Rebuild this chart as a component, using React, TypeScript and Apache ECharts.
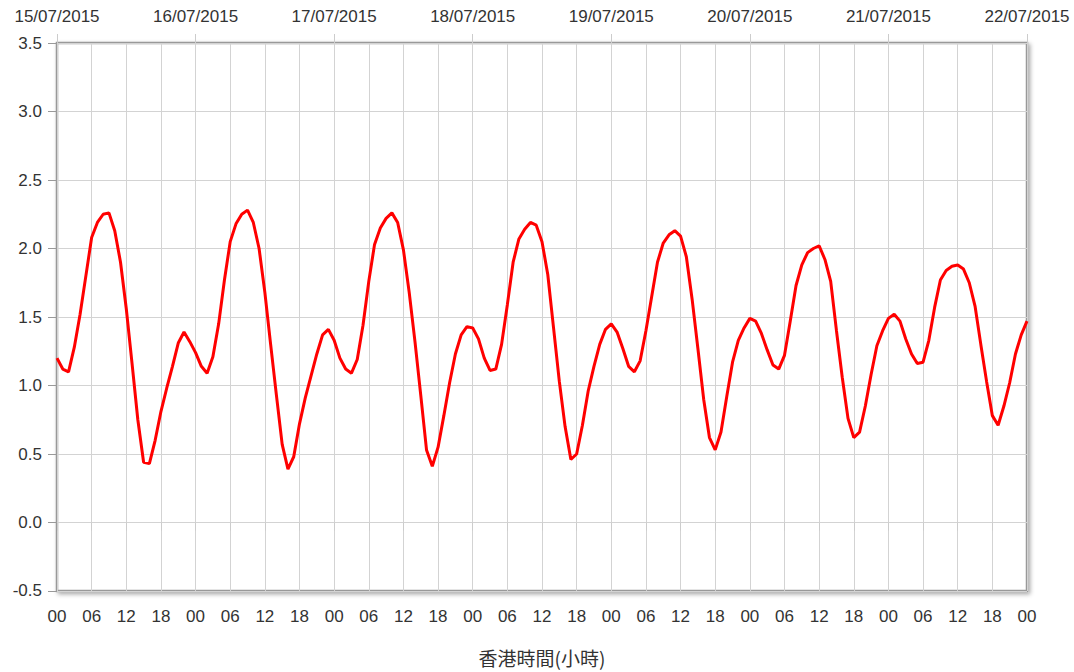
import React, { useEffect, useRef } from "react";
import * as echarts from "echarts";

const dateLabels = [
  "15/07/2015", "16/07/2015", "17/07/2015", "18/07/2015",
  "19/07/2015", "20/07/2015", "21/07/2015", "22/07/2015",
];

const hourLabels = ["00", "06", "12", "18"];

const yTicks = [-0.5, 0.0, 0.5, 1.0, 1.5, 2.0, 2.5, 3.0, 3.5];

// hourly tide heights (m), 15/07/2015 00:00 -> 22/07/2015 00:00
const tideHeights = [
  1.20, 1.12, 1.10, 1.28, 1.52, 1.80, 2.08, 2.19, 2.25, 2.26, 2.13, 1.90,
  1.56, 1.16, 0.75, 0.44, 0.43, 0.60, 0.81, 0.98, 1.14, 1.31, 1.39, 1.32,
  1.24, 1.14, 1.09, 1.21, 1.45, 1.77, 2.05, 2.18, 2.25, 2.28, 2.19, 2.00,
  1.68, 1.30, 0.93, 0.57, 0.39, 0.48, 0.72, 0.91, 1.07, 1.23, 1.37, 1.41,
  1.33, 1.20, 1.12, 1.09, 1.19, 1.44, 1.76, 2.03, 2.15, 2.22, 2.26, 2.19,
  1.99, 1.68, 1.32, 0.93, 0.53, 0.41, 0.55, 0.78, 1.02, 1.23, 1.37, 1.43,
  1.42, 1.34, 1.20, 1.11, 1.12, 1.30, 1.59, 1.90, 2.07, 2.14, 2.19, 2.17,
  2.05, 1.81, 1.42, 1.03, 0.70, 0.46, 0.50, 0.71, 0.96, 1.14, 1.30, 1.41,
  1.45, 1.39, 1.27, 1.14, 1.10, 1.18, 1.40, 1.65, 1.90, 2.04, 2.10, 2.13,
  2.09, 1.94, 1.63, 1.27, 0.90, 0.62, 0.53, 0.66, 0.92, 1.17, 1.33, 1.42,
  1.49, 1.47, 1.38, 1.26, 1.15, 1.12, 1.22, 1.47, 1.73, 1.88, 1.97, 2.00,
  2.02, 1.92, 1.76, 1.40, 1.06, 0.76, 0.62, 0.66, 0.85, 1.08, 1.29, 1.40,
  1.49, 1.52, 1.47, 1.34, 1.23, 1.16, 1.17, 1.33, 1.57, 1.77, 1.84, 1.87,
  1.88, 1.85, 1.75, 1.58, 1.30, 1.03, 0.78, 0.71, 0.85, 1.02, 1.23, 1.37,
  1.47,
];

const axisName = "香港時間(小時)";

export default function App() {
  const ref = useRef<HTMLDivElement>(null);

  useEffect(() => {
    if (!ref.current) return;
    const chart = echarts.init(ref.current, null, { renderer: "svg" });
    const totalHours = tideHeights.length - 1;
    const font = "Liberation Sans, Arial, sans-serif";
    chart.setOption({
      animation: false,
      backgroundColor: "#ffffff",
      grid: {
        left: 57,
        right: 47,
        top: 43,
        bottom: 79,
        show: true,
        backgroundColor: "#ffffff",
        borderColor: "#999999",
        borderWidth: 2.5,
        shadowColor: "rgba(0,0,0,0.35)",
        shadowBlur: 4,
        shadowOffsetX: 2,
        shadowOffsetY: 2,
      },
      xAxis: [
        {
          type: "value",
          position: "bottom",
          min: 0,
          max: totalHours,
          interval: 6,
          name: axisName,
          nameLocation: "middle",
          nameGap: 57,
          nameTextStyle: {
            fontSize: 19,
            color: "#333",
            fontFamily: "Noto Sans CJK TC, sans-serif",
          },
          axisLine: { show: false },
          axisTick: {
            show: true,
            length: 8,
            lineStyle: { color: "#cccccc" },
          },
          axisLabel: {
            margin: 17,
            fontSize: 17,
            color: "#333",
            fontFamily: font,
            formatter: (v: number) => hourLabels[(Math.round(v) % 24) / 6],
          },
          splitLine: { show: true, lineStyle: { color: "#d3d3d3", width: 1 } },
        },
        {
          type: "value",
          position: "top",
          min: 0,
          max: totalHours,
          interval: 24,
          axisLine: { show: false },
          axisTick: {
            show: true,
            length: 9,
            lineStyle: { color: "#cccccc" },
          },
          axisLabel: {
            margin: 18,
            fontSize: 17,
            color: "#333",
            fontFamily: font,
            formatter: (v: number) => dateLabels[Math.round(v / 24)],
          },
          splitLine: { show: false },
        },
      ],
      yAxis: {
        type: "value",
        min: yTicks[0],
        max: yTicks[yTicks.length - 1],
        interval: 0.5,
        axisLine: { show: false },
        axisTick: {
          show: true,
          length: 9,
          lineStyle: { color: "#999999" },
        },
        axisLabel: {
          margin: 15,
          fontSize: 17,
          color: "#333",
          fontFamily: font,
          formatter: (v: number) => v.toFixed(1),
        },
        splitLine: { show: true, lineStyle: { color: "#d3d3d3", width: 1 } },
      },
      series: [
        {
          type: "line",
          xAxisIndex: 0,
          data: tideHeights.map((v, i) => [i, v]),
          showSymbol: false,
          smooth: false,
          lineStyle: { color: "#ff0000", width: 3 },
          itemStyle: { color: "#ff0000" },
        },
      ],
    });
    return () => chart.dispose();
  }, []);

  return (
    <div
      ref={ref}
      style={{ position: "fixed", left: 0, top: 0, width: 1074, height: 672 }}
    />
  );
}
